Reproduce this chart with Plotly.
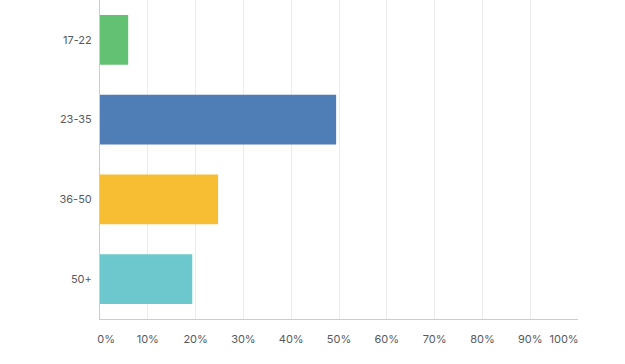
import plotly.graph_objects as go

NB = "\u00a0"
categories = ["17-22", "23-35", "36-50", "50+"]
values = [5.9, 49.4, 24.7, 19.3]
colors = ["#63c174", "#4f7db6", "#f7bd33", "#6cc8cc"]
tick_vals = [0, 10, 20, 30, 40, 50, 60, 70, 80, 90, 100]
tick_text = [NB * 4 + "0%", "10%", "20%", "30%", "40%", "50%", "60%", "70%",
             "80%", "90%", "100%" + NB * 9]

fig = go.Figure(go.Bar(
    x=values, y=categories, orientation="h",
    marker=dict(color=colors, line=dict(width=0)),
    hoverinfo="skip",
))

fig.update_layout(
    width=625, height=364,
    margin=dict(l=100, r=47, t=0, b=45),
    paper_bgcolor="white", plot_bgcolor="white",
    bargap=0.375,
    showlegend=False,
    font=dict(family="Inter, Roboto, sans-serif", size=11, color="#555a61"),
    xaxis=dict(
        range=[0, 100], tickvals=tick_vals, ticktext=tick_text,
        showgrid=True, gridcolor="#ebebeb", gridwidth=1,
        showline=True, linecolor="#cccccc", linewidth=1,
        zeroline=False, ticks="", ticklen=0,
        ticklabelstandoff=10,
        tickfont=dict(size=11, color="#555a61"),
        fixedrange=True,
    ),
    yaxis=dict(
        categoryorder="array", categoryarray=categories[::-1],
        showline=True, linecolor="#cccccc", linewidth=1,
        showgrid=False, ticks="", ticklen=0,
        ticklabelstandoff=5,
        tickfont=dict(size=11, color="#555a61"),
        fixedrange=True,
    ),
)

fig.write_html(
    "out.html",
    config={"displayModeBar": False},
    post_script="document.body.style.margin='0';document.body.style.padding='0';",
)
